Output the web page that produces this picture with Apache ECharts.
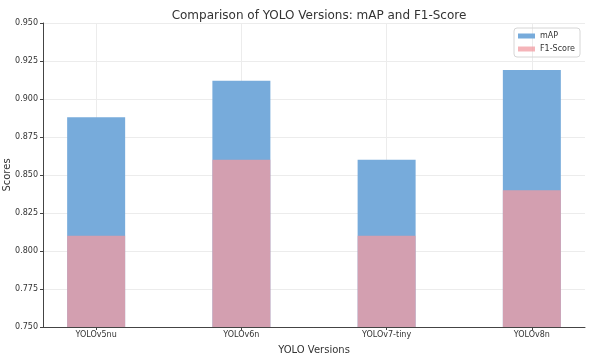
<!DOCTYPE html>
<html><head><meta charset="utf-8">
<script src="https://cdn.jsdelivr.net/npm/echarts@6/dist/echarts.min.js"></script>
<style>html,body{margin:0;padding:0;background:#fff}#c{width:600px;height:360px}</style>
</head><body><div id="c"></div>
<script>
const categories = ['YOLOv5nu', 'YOLOv6n', 'YOLOv7-tiny', 'YOLOv8n'];
const mapValues = [0.888, 0.912, 0.860, 0.919];
const f1Values = [0.810, 0.860, 0.810, 0.840];
const yTicks = [0.750, 0.775, 0.800, 0.825, 0.850, 0.875, 0.900, 0.925, 0.950];

const idx = categories.map((_, i) => i);
const chart = echarts.init(document.getElementById('c'), null, {renderer: 'canvas'});
const font = 'DejaVu Sans';
chart.setOption({
  animation: false,
  backgroundColor: '#fff',
  textStyle: {fontFamily: font},
  title: {
    text: 'Comparison of YOLO Versions: mAP and F1-Score',
    left: 314, top: 5, textAlign: 'center',
    textStyle: {fontFamily: font, fontSize: 12, fontWeight: 'normal', color: '#333'}
  },
  legend: {
    orient: 'vertical', right: 20, top: 28,
    itemWidth: 17, itemHeight: 5, itemGap: 5,
    icon: 'rect',
    padding: [4, 5, 4, 4],
    borderColor: '#d6d6d6', borderWidth: 1, borderRadius: 3,
    textStyle: {fontFamily: font, fontSize: 8, color: '#333'},
    data: ['mAP', 'F1-Score']
  },
  grid: {left: 43, right: 15, top: 23, bottom: 33, outerBoundsMode: 'none', containLabel: false},
  xAxis: {
    type: 'value', min: -0.366, max: 3.366,
    name: 'YOLO Versions', nameLocation: 'middle', nameGap: 18, nameMoveOverlap: false,
    nameTextStyle: {fontFamily: font, fontSize: 10, color: '#333'},
    axisLine: {show: true, onZero: false, lineStyle: {color: '#444', width: 1}},
    axisTick: {show: true, customValues: idx, length: 3, lineStyle: {color: '#444'}},
    axisLabel: {customValues: idx, formatter: v => categories[Math.round(v)] || '',
      fontFamily: font, fontSize: 8, color: '#333', margin: 4},
    splitLine: {show: false}
  },
  yAxis: {
    type: 'value', min: 0.75, max: 0.95, interval: 0.025,
    name: 'Scores', nameLocation: 'middle', nameGap: 31, nameRotate: 90, nameMoveOverlap: false,
    nameTextStyle: {fontFamily: font, fontSize: 10, color: '#333'},
    axisLine: {show: true, onZero: false, lineStyle: {color: '#444', width: 1}},
    axisTick: {show: true, length: 3, inside: false, lineStyle: {color: '#444'}},
    axisLabel: {formatter: v => v.toFixed(3), fontFamily: font, fontSize: 8, color: '#333', margin: 5},
    splitLine: {show: true, lineStyle: {color: '#ececec', width: 1}}
  },
  series: [
    {
      name: 'mAP', type: 'bar', barWidth: 58, barGap: '-100%',
      itemStyle: {color: '#77abdb'},
      data: idx.map(i => [i, mapValues[i]]),
      markLine: {
        silent: true, symbol: 'none', label: {show: false},
        lineStyle: {color: '#ececec', type: 'solid', width: 1},
        z: 0,
        data: idx.map(i => ({xAxis: i}))
      },
      z: 2
    },
    {
      name: 'F1-Score', type: 'bar', barWidth: 58, barGap: '-100%',
      itemStyle: {color: 'rgba(242,155,162,0.75)'},
      data: idx.map(i => [i, f1Values[i]]),
      z: 3
    }
  ]
});
</script></body></html>
